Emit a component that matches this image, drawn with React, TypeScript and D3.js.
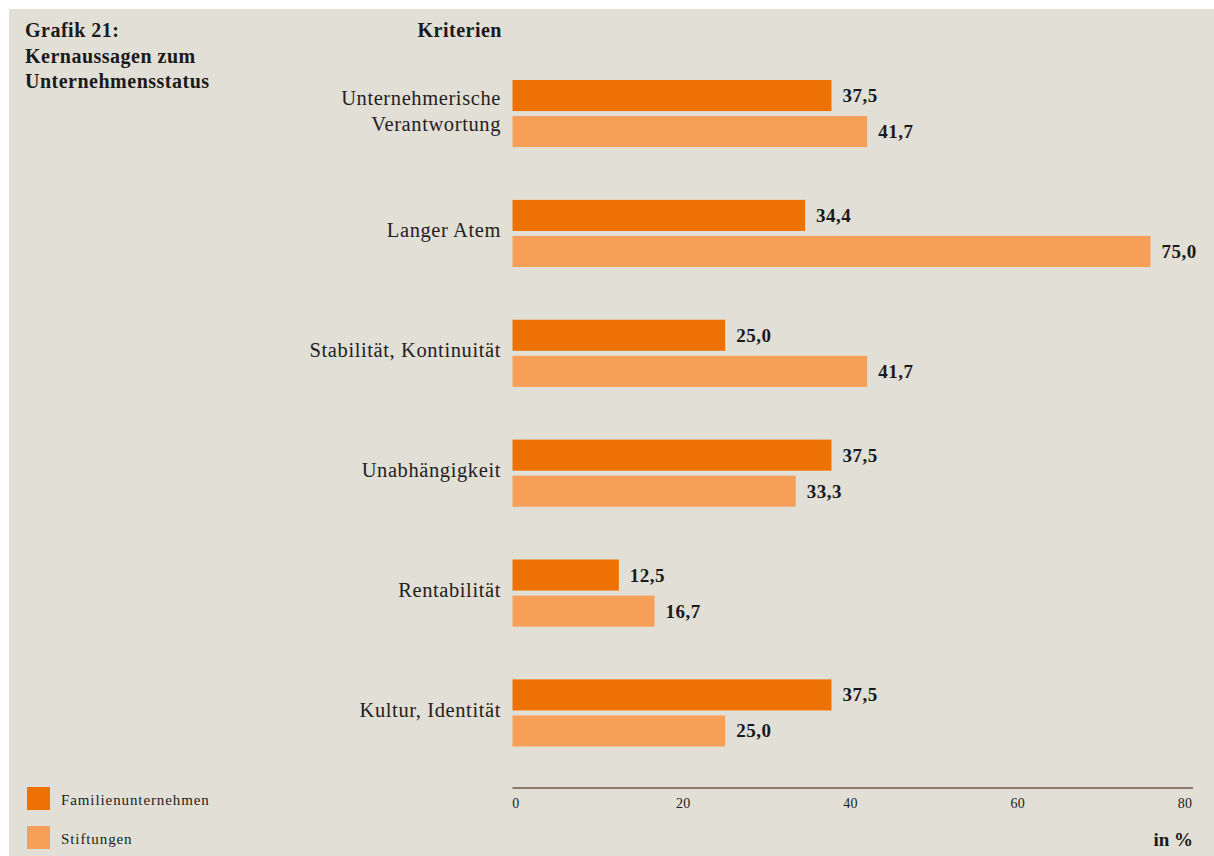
import React from "react";
import * as d3 from "d3";

const categories: string[][] = [
  ["Unternehmerische", "Verantwortung"],
  ["Langer Atem"],
  ["Stabilität, Kontinuität"],
  ["Unabhängigkeit"],
  ["Rentabilität"],
  ["Kultur, Identität"],
];
const seriesNames = ["Familienunternehmen", "Stiftungen"];
const familien = [37.5, 34.4, 25.0, 37.5, 12.5, 37.5];
const stiftungen = [41.7, 75.0, 41.7, 33.3, 16.7, 25.0];
const ticks = [0, 20, 40, 60, 80];
const colors = ["#EE7203", "#F59F58"];

const W = 1214;
const H = 856;
const FONT = "'Liberation Serif', 'DejaVu Serif', serif";

export default function App() {
  const x = d3.scaleLinear().domain([0, 80]).range([512.5, 1193]);
  const tickX = d3.scaleLinear().domain([0, 80]).range([516, 1185]);
  const keys = categories.map((c) => c.join(" "));
  const y = d3.scaleBand<string>().domain(keys).range([80, 746.5]).paddingInner(0.44);
  const inner = d3
    .scaleBand<number>()
    .domain([0, 1])
    .range([0, y.bandwidth()])
    .paddingInner(5 / 36);
  const series = [familien, stiftungen];
  const fmt = (v: number) => d3.format(".1f")(v).replace(".", ",");

  return (
    <svg
      width={W}
      height={H}
      style={{ position: "absolute", left: 0, top: 0, display: "block" }}
      fontFamily={FONT}
    >
      <rect x={9} y={9} width={W - 9} height={H - 9} fill="#E2DFD7" />
      <g fill="#1a1a1a" fontWeight="bold" fontSize={20} letterSpacing={0.5}>
        <text x={25} y={37}>Grafik 21:</text>
        <text x={25} y={63}>Kernaussagen zum</text>
        <text x={25} y={88}>Unternehmensstatus</text>
        <text x={502} y={37} textAnchor="end">Kriterien</text>
      </g>
      {keys.map((k, i) => {
        const top = y(k)!;
        const center = top + y.bandwidth() / 2;
        const lines = categories[i];
        const lh = 26;
        return (
          <g key={k}>
            {lines.map((ln, j) => (
              <text
                key={j}
                x={501}
                y={center + (j - (lines.length - 1) / 2) * lh + 4}
                textAnchor="end"
                fontSize={20.5}
                letterSpacing={0.6}
                fill="#222"
              >
                {ln}
              </text>
            ))}
            {series.map((s, si) => {
              const yy = top + inner(si)!;
              return (
                <g key={si}>
                  <rect
                    x={x(0)}
                    y={yy}
                    width={x(s[i]) - x(0)}
                    height={inner.bandwidth()}
                    fill={colors[si]}
                  />
                  <text
                    x={x(s[i]) + 11}
                    y={yy + inner.bandwidth() / 2 + 6.5}
                    fontSize={19}
                    letterSpacing={0.5}
                    fontWeight="bold"
                    fill="#1a1a1a"
                  >
                    {fmt(s[i])}
                  </text>
                </g>
              );
            })}
          </g>
        );
      })}
      <line x1={x(0)} x2={x(80)} y1={788} y2={788} stroke="#8C7B6A" strokeWidth={2} />
      {ticks.map((t) => (
        <text key={t} x={tickX(t)} y={808} textAnchor="middle" fontSize={14} letterSpacing={0.3} fill="#222">
          {t}
        </text>
      ))}
      <text x={1193} y={846} textAnchor="end" fontSize={19} fontWeight="bold" fill="#1a1a1a">
        in %
      </text>
      {seriesNames.map((n, i) => (
        <g key={n}>
          <rect x={27} y={787 + i * 39} width={23} height={23} fill={colors[i]} />
          <text x={61} y={805 + i * 39} fontSize={15} letterSpacing={0.9} fill="#222">
            {n}
          </text>
        </g>
      ))}
    </svg>
  );
}
